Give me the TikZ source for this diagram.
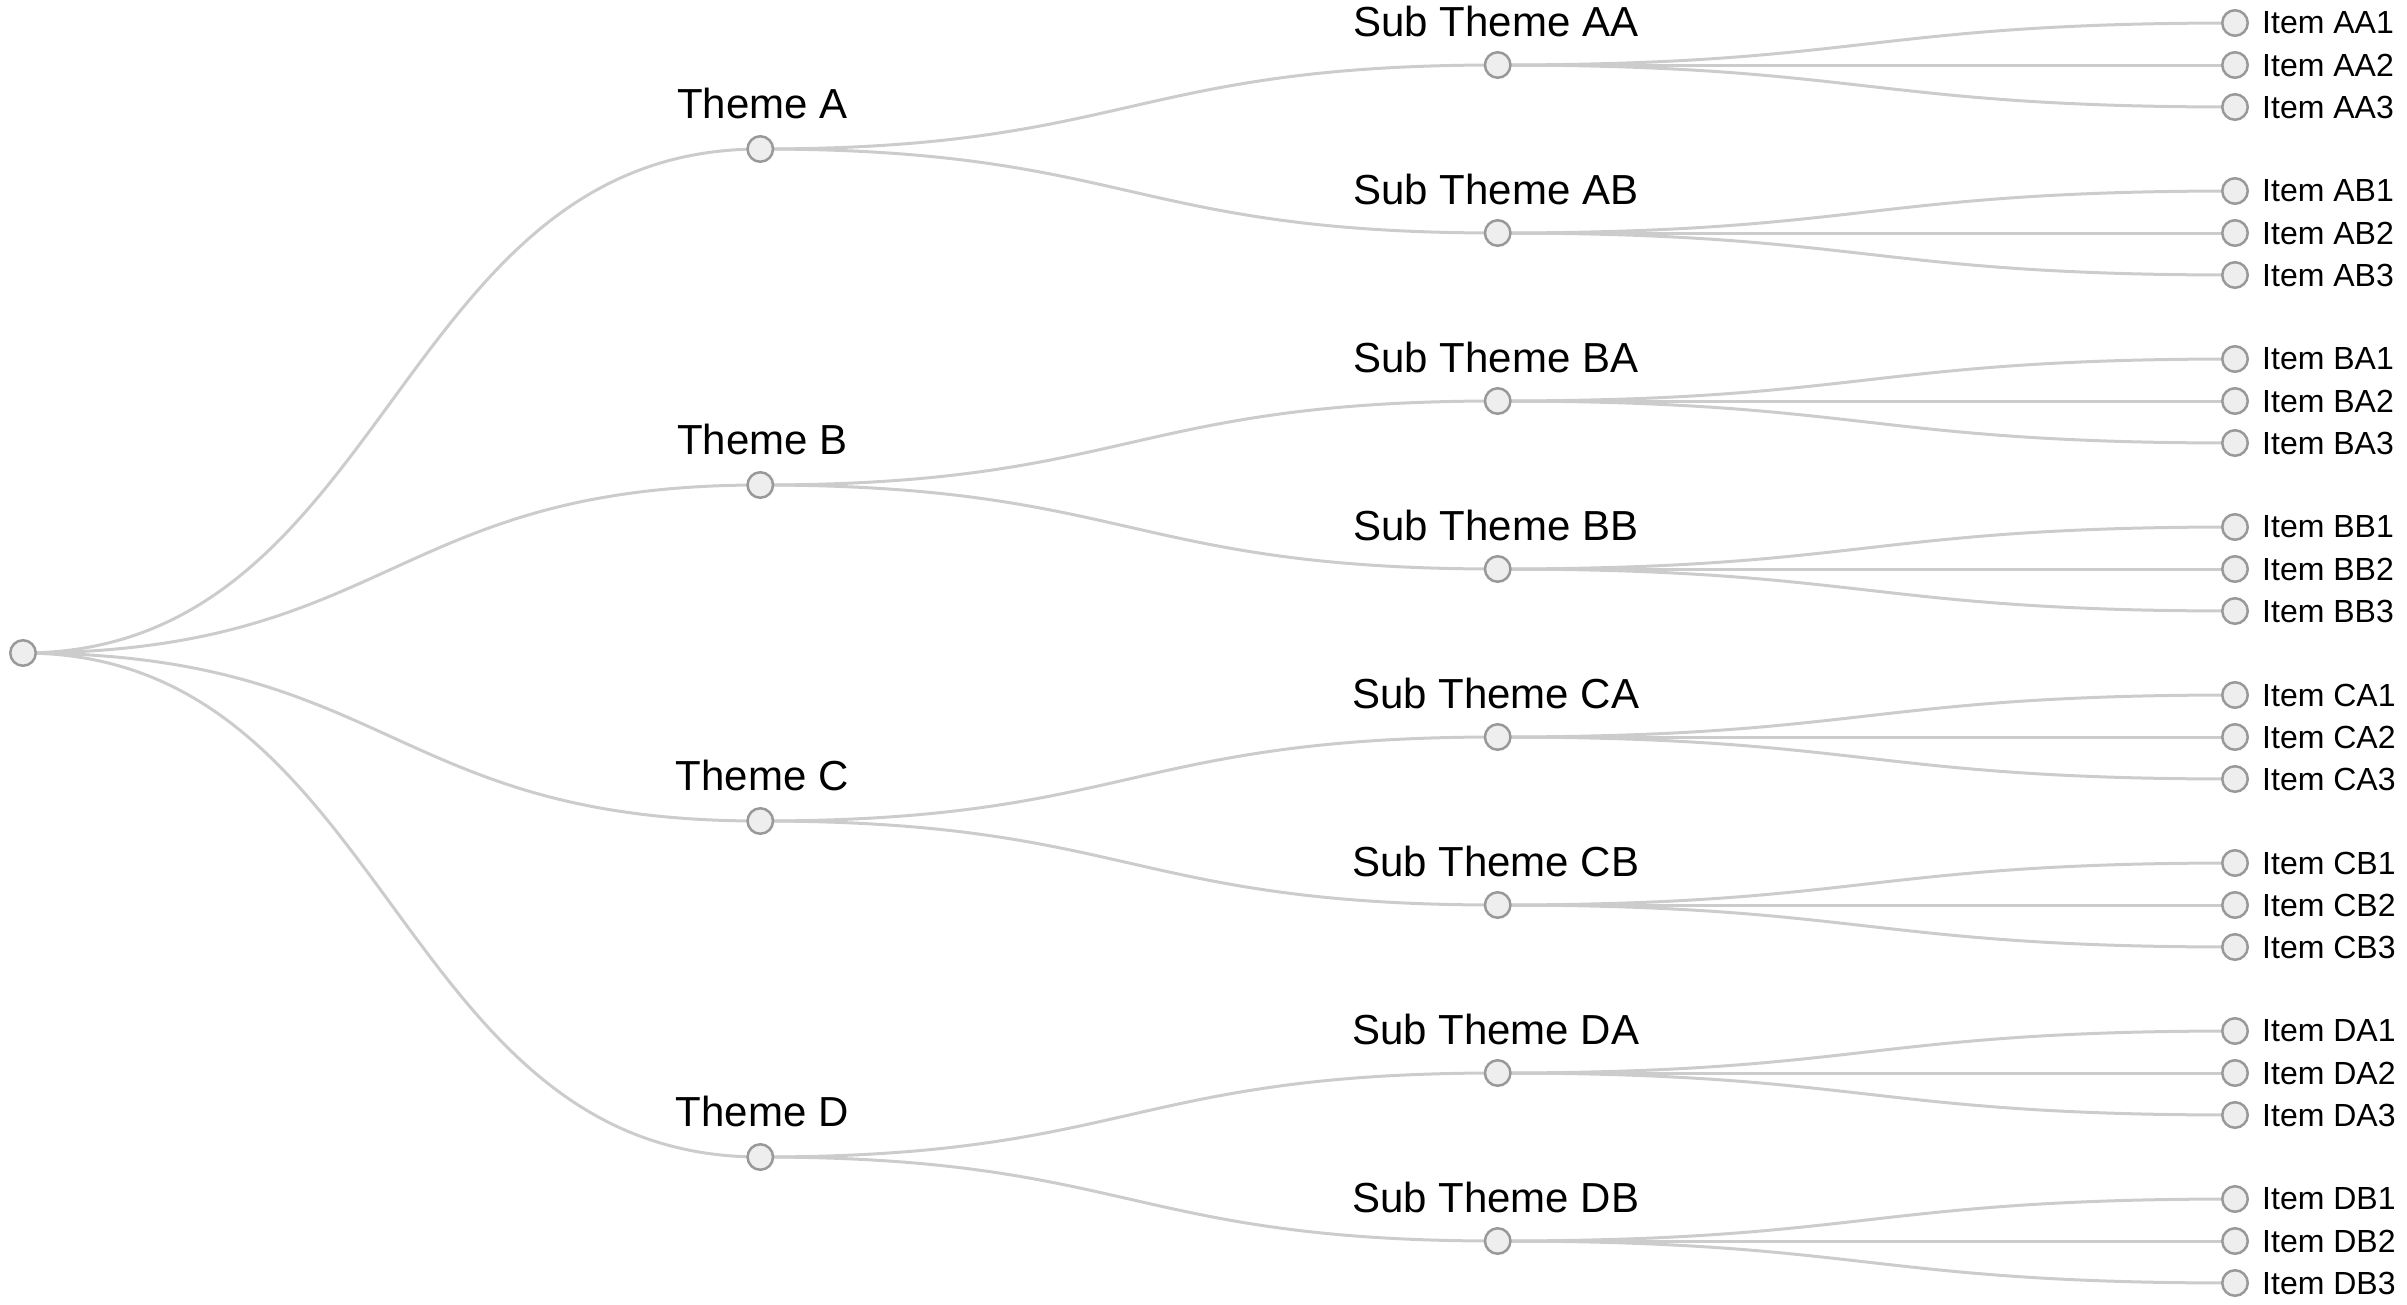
\documentclass[tikz,border=0pt]{standalone}
\usepackage{fontspec}
\setmainfont{Liberation Sans}
\usepackage{tikz}
\usetikzlibrary{calc,positioning}
\pgfdeclarelayer{back}
\pgfsetlayers{back,main}
\definecolor{linkgray}{HTML}{CCCCCC}
\definecolor{dotline}{HTML}{999999}
\definecolor{dotfill}{HTML}{EEEEEE}

\begin{document}
\begin{tikzpicture}[x=1pt, y=-1pt]
      \tikzstyle{dot} = [circle, draw=dotline, fill=dotfill, line width=2.5pt,
                         minimum size=25.5pt, inner sep=0pt]
      \tikzstyle{link} = [draw=linkgray, line width=3pt]
      \tikzstyle{bez} = [to path={.. controls ($(\tikztostart)+(368.6,0)$)
                         and ($(\tikztotarget)+(-368.6,0)$) .. (\tikztotarget)}]
      \tikzstyle{head} = [anchor=base, inner sep=0pt,
                          font=\fontsize{42}{48}\selectfont]
      \tikzstyle{leaf} = [anchor=west, inner sep=0pt,
                          font=\fontsize{32}{38}\selectfont]
      \useasboundingbox (0,0) rectangle (2407,1304);
      \node[dot] (root) at (23,653) {};
      \foreach \t [count=\i from 0] in {A,B,C,D} {
        \node[dot] (th\t) at (760.3,{149+336*\i}) {};
        \node[head] (lbl\t) at ($(th\t)+(2,-31)$) {Theme \t};
        \begin{pgfonlayer}{back}
          \path[link] (root.center) to[bez] (th\t.center);
        \end{pgfonlayer}
        \foreach \s [count=\j from 0] in {A,B} {
          \pgfmathtruncatemacro\g{2*\i+\j}
          \node[dot] (sub\t\s) at (1497.7,{65+168*\g}) {};
          \node[head] (lbl\t\s) at ($(sub\t\s)+(-2,-29)$) {Sub Theme \t\s};
          \begin{pgfonlayer}{back}
            \path[link] (th\t.center) to[bez] (sub\t\s.center);
          \end{pgfonlayer}
          \foreach \k in {1,2,3} {
            \node[dot] (item\t\s\k) at (2235,{23+42*(4*\g+\k-1)}) {};
            \node[leaf, right=13pt of item\t\s\k] (lbl\t\s\k) {Item \t\s\k};
            \begin{pgfonlayer}{back}
              \path[link] (sub\t\s.center) to[bez] (item\t\s\k.center);
            \end{pgfonlayer}
          }
        }
      }
\end{tikzpicture}
\end{document}
